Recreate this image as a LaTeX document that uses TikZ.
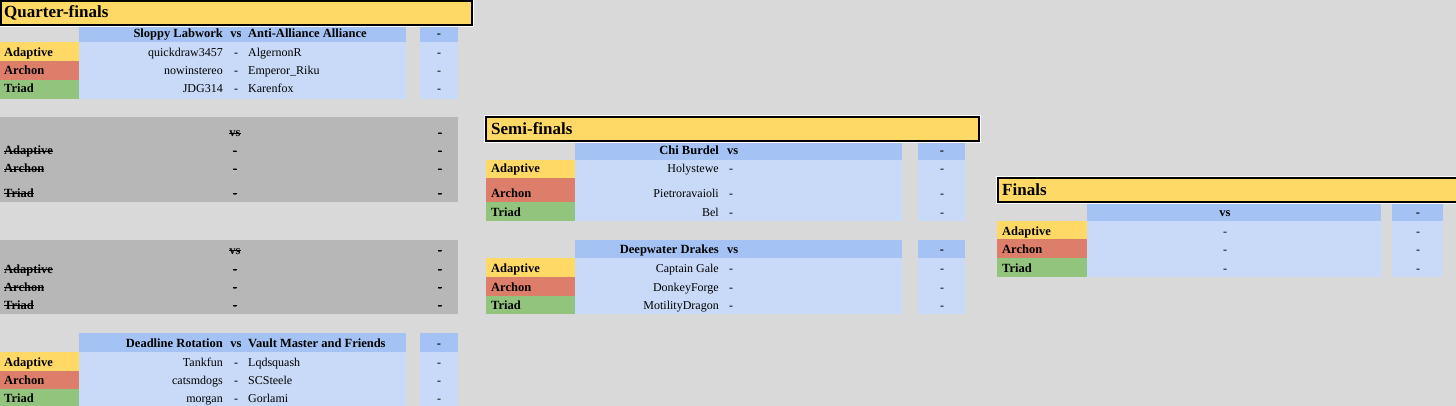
\documentclass[tikz,border=0pt]{standalone}
\usepackage{fontspec}
\setmainfont{Liberation Serif}
\definecolor{bgc}{HTML}{D9D9D9}
\definecolor{ttlc}{HTML}{FFD966}
\definecolor{yelc}{HTML}{FFD966}
\definecolor{redc}{HTML}{DD7E6B}
\definecolor{grnc}{HTML}{93C47D}
\definecolor{hdrc}{HTML}{A4C2F4}
\definecolor{rowc}{HTML}{C9DAF8}
\definecolor{gryc}{HTML}{B7B7B7}
\newcommand\strk[1]{\begingroup\setbox0=\hbox{#1}\rlap{\rule[0.27em]{\wd0}{0.8pt}}\box0\endgroup}
\begin{document}
\begin{tikzpicture}[x=1pt,y=-1pt,
  hb/.style={fill=hdrc}, lb/.style={fill=rowc},
  cy/.style={fill=yelc}, cr/.style={fill=redc}, cg/.style={fill=grnc},
  gb/.style={fill=gryc},
  ttlbox/.style={draw=black, line width=2pt, fill=ttlc},
  ttl/.style={anchor=base west, inner sep=0, font=\bfseries\fontsize{17}{19}\selectfont},
  lab/.style={anchor=base west, inner sep=0, font=\bfseries\fontsize{12.5}{14}\selectfont},
  br/.style={anchor=base east, inner sep=0, font=\bfseries\fontsize{12.5}{14}\selectfont},
  bl/.style={anchor=base west, inner sep=0, font=\bfseries\fontsize{12.5}{14}\selectfont},
  bm/.style={anchor=base, inner sep=0, font=\bfseries\fontsize{12.5}{14}\selectfont},
  pr/.style={anchor=base east, inner sep=0, font=\fontsize{12}{14}\selectfont},
  pl/.style={anchor=base west, inner sep=0, font=\fontsize{12}{14}\selectfont},
  pm/.style={anchor=base, inner sep=0, font=\fontsize{12}{14}\selectfont}]
\useasboundingbox (0,0) rectangle (1456,406);
\fill[bgc] (0,0) rectangle (1456,406);

% ---------- Quarter-final 1 ----------
\fill[hb] (79,25) rectangle (406,42); \fill[hb] (420,25) rectangle (458,42);
\fill[lb] (79,42) rectangle (406,99); \fill[lb] (420,42) rectangle (458,99);
\fill[cy] (0,42) rectangle (79,61); \fill[cr] (0,61) rectangle (79,80); \fill[cg] (0,80) rectangle (79,99);
\node[br] (q1a) at (223,38) {Sloppy Labwork};
\node[bm] (q1vs) at (236,38) {vs};
\node[bl] (q1b) at (248,38) {Anti-Alliance Alliance};
\node[bm] (q1s) at (439,38) {-};
\node[lab] (q1l1) at (4,57) {Adaptive};
\node[lab] (q1l2) at (4,75) {Archon};
\node[lab] (q1l3) at (4,93) {Triad};
\node[pr] (q1a1) at (223,57) {quickdraw3457}; \node[pm] (q1d1) at (236,57) {-}; \node[pl] (q1b1) at (248,57) {AlgernonR}; \node[pm] (q1s1) at (439,57) {-};
\node[pr] (q1a2) at (223,75) {nowinstereo}; \node[pm] (q1d2) at (236,75) {-}; \node[pl] (q1b2) at (248,75) {Emperor\_Riku}; \node[pm] (q1s2) at (439,75) {-};
\node[pr] (q1a3) at (223,93) {JDG314}; \node[pm] (q1d3) at (236,93) {-}; \node[pl] (q1b3) at (248,93) {Karenfox}; \node[pm] (q1s3) at (439,93) {-};

% ---------- Quarter-final 2 (grey) ----------
\fill[gb] (0,117) rectangle (458,202);
\node[bm] (q2vs) at (235,137) {\strk{vs}}; \node[bm] (q2s) at (440,137) {\strk{-}};
\node[lab] (q2l1) at (4,155) {\strk{Adaptive}}; \node[bm] (q2d1) at (235,155) {\strk{-}}; \node[bm] (q2s1) at (440,155) {\strk{-}};
\node[lab] (q2l2) at (4,173) {\strk{Archon}}; \node[bm] (q2d2) at (235,173) {\strk{-}}; \node[bm] (q2s2) at (440,173) {\strk{-}};
\node[lab] (q2l3) at (4,197) {\strk{Triad}}; \node[bm] (q2d3) at (235,197) {\strk{-}}; \node[bm] (q2s3) at (440,197) {\strk{-}};

% ---------- Quarter-final 3 (grey) ----------
\fill[gb] (0,240) rectangle (458,314);
\node[bm] (q3vs) at (235,254) {\strk{vs}}; \node[bm] (q3s) at (440,254) {\strk{-}};
\node[lab] (q3l1) at (4,273) {\strk{Adaptive}}; \node[bm] (q3d1) at (235,273) {\strk{-}}; \node[bm] (q3s1) at (440,273) {\strk{-}};
\node[lab] (q3l2) at (4,291) {\strk{Archon}}; \node[bm] (q3d2) at (235,291) {\strk{-}}; \node[bm] (q3s2) at (440,291) {\strk{-}};
\node[lab] (q3l3) at (4,309) {\strk{Triad}}; \node[bm] (q3d3) at (235,309) {\strk{-}}; \node[bm] (q3s3) at (440,309) {\strk{-}};

% ---------- Quarter-final 4 ----------
\fill[hb] (79,333) rectangle (406,352); \fill[hb] (420,333) rectangle (458,352);
\fill[lb] (79,352) rectangle (406,406); \fill[lb] (420,352) rectangle (458,406);
\fill[cy] (0,352) rectangle (79,371); \fill[cr] (0,371) rectangle (79,389); \fill[cg] (0,389) rectangle (79,406);
\node[br] (q4a) at (223,347) {Deadline Rotation};
\node[bm] (q4vs) at (236,347) {vs};
\node[bl] (q4b) at (248,347) {Vault Master and Friends};
\node[bm] (q4s) at (439,347) {-};
\node[lab] (q4l1) at (4,366) {Adaptive};
\node[lab] (q4l2) at (4,384) {Archon};
\node[lab] (q4l3) at (4,402) {Triad};
\node[pr] (q4a1) at (223,366) {Tankfun}; \node[pm] (q4d1) at (236,366) {-}; \node[pl] (q4b1) at (248,366) {Lqdsquash}; \node[pm] (q4s1) at (439,366) {-};
\node[pr] (q4a2) at (223,384) {catsmdogs}; \node[pm] (q4d2) at (236,384) {-}; \node[pl] (q4b2) at (248,384) {SCSteele}; \node[pm] (q4s2) at (439,384) {-};
\node[pr] (q4a3) at (223,402) {morgan}; \node[pm] (q4d3) at (236,402) {-}; \node[pl] (q4b3) at (248,402) {Gorlami}; \node[pm] (q4s3) at (439,402) {-};

% ---------- Semi-final 1 ----------
\fill[hb] (575,142) rectangle (902,160); \fill[hb] (918,142) rectangle (965,160);
\fill[lb] (575,160) rectangle (902,221); \fill[lb] (918,160) rectangle (965,221);
\fill[cy] (486,160) rectangle (575,178); \fill[cr] (486,178) rectangle (575,202); \fill[cg] (486,202) rectangle (575,221);
\node[br] (s1a) at (719,155) {Chi Burdel};
\node[bl] (s1vs) at (727,155) {vs};
\node[bm] (s1s) at (942,155) {-};
\node[lab] (s1l1) at (491,173) {Adaptive};
\node[lab] (s1l2) at (491,197) {Archon};
\node[lab] (s1l3) at (491,216) {Triad};
\node[pr] (s1a1) at (719,173) {Holystewe}; \node[pm] (s1d1) at (731,173) {-}; \node[pm] (s1s1) at (942,173) {-};
\node[pr] (s1a2) at (719,197) {Pietroravaioli}; \node[pm] (s1d2) at (731,197) {-}; \node[pm] (s1s2) at (942,197) {-};
\node[pr] (s1a3) at (719,216) {Bel}; \node[pm] (s1d3) at (731,216) {-}; \node[pm] (s1s3) at (942,216) {-};

% ---------- Semi-final 2 ----------
\fill[hb] (575,240) rectangle (902,258); \fill[hb] (918,240) rectangle (965,258);
\fill[lb] (575,258) rectangle (902,314); \fill[lb] (918,258) rectangle (965,314);
\fill[cy] (486,258) rectangle (575,277); \fill[cr] (486,277) rectangle (575,296); \fill[cg] (486,296) rectangle (575,314);
\node[br] (s2a) at (719,253) {Deepwater Drakes};
\node[bl] (s2vs) at (727,253) {vs};
\node[bm] (s2s) at (942,253) {-};
\node[lab] (s2l1) at (491,272) {Adaptive};
\node[lab] (s2l2) at (491,291) {Archon};
\node[lab] (s2l3) at (491,309) {Triad};
\node[pr] (s2a1) at (719,272) {Captain Gale}; \node[pm] (s2d1) at (731,272) {-}; \node[pm] (s2s1) at (942,272) {-};
\node[pr] (s2a2) at (719,291) {DonkeyForge}; \node[pm] (s2d2) at (731,291) {-}; \node[pm] (s2s2) at (942,291) {-};
\node[pr] (s2a3) at (719,309) {MotilityDragon}; \node[pm] (s2d3) at (731,309) {-}; \node[pm] (s2s3) at (942,309) {-};

% ---------- Final ----------
\fill[hb] (1087,203) rectangle (1381,221); \fill[hb] (1392,203) rectangle (1443,221);
\fill[lb] (1087,221) rectangle (1381,277); \fill[lb] (1392,221) rectangle (1443,277);
\fill[cy] (997,221) rectangle (1087,239); \fill[cr] (997,239) rectangle (1087,258); \fill[cg] (997,258) rectangle (1087,277);
\node[bm] (fvs) at (1225,217) {vs};
\node[bm] (fs) at (1418,217) {-};
\node[lab] (fl1) at (1002,235) {Adaptive};
\node[lab] (fl2) at (1002,253) {Archon};
\node[lab] (fl3) at (1002,272) {Triad};
\node[pm] (fd1) at (1225,235) {-}; \node[pm] (fs1) at (1418,235) {-};
\node[pm] (fd2) at (1225,253) {-}; \node[pm] (fs2) at (1418,253) {-};
\node[pm] (fd3) at (1225,272) {-}; \node[pm] (fs3) at (1418,272) {-};

% ---------- Title boxes ----------
\fill[white] (-1,-1) rectangle (474,27);
\draw[ttlbox] (1,1) rectangle (472,25);
\node[ttl] (qtitle) at (4,18) {Quarter-finals};
\fill[white] (484,115) rectangle (981,143);
\draw[ttlbox] (486,117) rectangle (979,141);
\node[ttl] (stitle) at (491,135) {Semi-finals};
\fill[white] (996,176) rectangle (1462,204);
\draw[ttlbox] (998,178) rectangle (1462,202);
\node[ttl] (ftitle) at (1002,196) {Finals};
\end{tikzpicture}
\end{document}
